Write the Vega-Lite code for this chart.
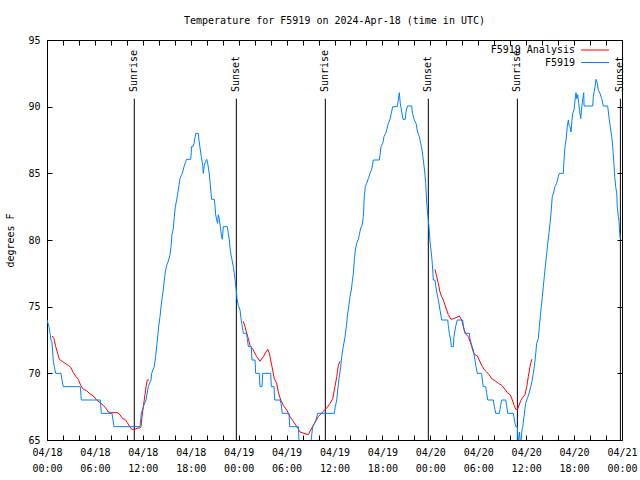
{
  "$schema": "https://vega.github.io/schema/vega-lite/v6.json",
  "width": 575,
  "height": 400,
  "autosize": {"type": "none"},
  "padding": {"left": 47, "top": 40, "right": 18, "bottom": 40},
  "background": "white",
  "config": {
    "font": "DejaVu Sans Mono",
    "view": {"stroke": "black", "strokeWidth": 1},
    "axis": {
      "labelFont": "DejaVu Sans Mono", "labelFontSize": 10, "labelColor": "black",
      "titleFont": "DejaVu Sans Mono", "titleFontSize": 10, "titleFontWeight": "normal", "titleColor": "black",
      "grid": false, "domain": false, "tickColor": "black", "tickSize": -5, "tickWidth": 1,
      "labelFlush": false, "labelOverlap": false
    },
    "legend": {
      "orient": "none", "legendX": 543, "legendY": 5, "title": null, "padding": 0,
      "labelFont": "DejaVu Sans Mono", "labelFontSize": 10, "labelColor": "black",
      "symbolType": "M-5,0H5", "symbolSize": 31.36, "symbolStrokeWidth": 1,
      "labelAlign": "right", "labelOffset": -25, "rowPadding": 2.5
    }
  },
  "title": {
    "text": "Temperature for F5919 on 2024-Apr-18 (time in UTC)",
    "font": "DejaVu Sans Mono", "fontSize": 10, "fontWeight": "normal", "color": "black",
    "anchor": "middle", "frame": "group", "offset": 9
  },
  "datasets": {
    "events": [
      {"event": "Sunrise", "hour": 10.93},
      {"event": "Sunset", "hour": 23.71},
      {"event": "Sunrise", "hour": 34.85},
      {"event": "Sunset", "hour": 47.75},
      {"event": "Sunrise", "hour": 58.90},
      {"event": "Sunset", "hour": 71.80}
    ],
    "temps": [
      {"series": "F5919 Analysis", "run": "a1", "hour": 0.66, "temp": 72.8},
      {"series": "F5919 Analysis", "run": "a1", "hour": 0.88, "temp": 72.6},
      {"series": "F5919 Analysis", "run": "a1", "hour": 1.09, "temp": 72.0},
      {"series": "F5919 Analysis", "run": "a1", "hour": 1.34, "temp": 71.5},
      {"series": "F5919 Analysis", "run": "a1", "hour": 1.54, "temp": 71.05},
      {"series": "F5919 Analysis", "run": "a1", "hour": 1.92, "temp": 70.9},
      {"series": "F5919 Analysis", "run": "a1", "hour": 2.25, "temp": 70.75},
      {"series": "F5919 Analysis", "run": "a1", "hour": 2.67, "temp": 70.6},
      {"series": "F5919 Analysis", "run": "a1", "hour": 2.97, "temp": 70.45},
      {"series": "F5919 Analysis", "run": "a1", "hour": 3.29, "temp": 70.05},
      {"series": "F5919 Analysis", "run": "a1", "hour": 3.63, "temp": 69.75},
      {"series": "F5919 Analysis", "run": "a1", "hour": 3.92, "temp": 69.55},
      {"series": "F5919 Analysis", "run": "a1", "hour": 4.22, "temp": 69.1},
      {"series": "F5919 Analysis", "run": "a1", "hour": 4.55, "temp": 68.8},
      {"series": "F5919 Analysis", "run": "a1", "hour": 4.97, "temp": 68.7},
      {"series": "F5919 Analysis", "run": "a1", "hour": 5.30, "temp": 68.5},
      {"series": "F5919 Analysis", "run": "a1", "hour": 5.80, "temp": 68.3},
      {"series": "F5919 Analysis", "run": "a1", "hour": 6.22, "temp": 68.0},
      {"series": "F5919 Analysis", "run": "a1", "hour": 6.64, "temp": 67.8},
      {"series": "F5919 Analysis", "run": "a1", "hour": 7.05, "temp": 67.6},
      {"series": "F5919 Analysis", "run": "a1", "hour": 7.35, "temp": 67.4},
      {"series": "F5919 Analysis", "run": "a1", "hour": 7.68, "temp": 67.1},
      {"series": "F5919 Analysis", "run": "a1", "hour": 8.10, "temp": 67.05},
      {"series": "F5919 Analysis", "run": "a1", "hour": 8.80, "temp": 67.05},
      {"series": "F5919 Analysis", "run": "a1", "hour": 9.14, "temp": 66.9},
      {"series": "F5919 Analysis", "run": "a1", "hour": 9.48, "temp": 66.6},
      {"series": "F5919 Analysis", "run": "a1", "hour": 9.77, "temp": 66.55},
      {"series": "F5919 Analysis", "run": "a1", "hour": 10.06, "temp": 66.3},
      {"series": "F5919 Analysis", "run": "a1", "hour": 10.31, "temp": 66.05},
      {"series": "F5919 Analysis", "run": "a1", "hour": 10.61, "temp": 65.8},
      {"series": "F5919 Analysis", "run": "a1", "hour": 11.02, "temp": 65.8},
      {"series": "F5919 Analysis", "run": "a1", "hour": 11.31, "temp": 65.9},
      {"series": "F5919 Analysis", "run": "a1", "hour": 11.65, "temp": 65.9},
      {"series": "F5919 Analysis", "run": "a1", "hour": 11.77, "temp": 66.0},
      {"series": "F5919 Analysis", "run": "a1", "hour": 11.90, "temp": 66.75},
      {"series": "F5919 Analysis", "run": "a1", "hour": 12.06, "temp": 67.5},
      {"series": "F5919 Analysis", "run": "a1", "hour": 12.27, "temp": 68.4},
      {"series": "F5919 Analysis", "run": "a1", "hour": 12.40, "temp": 69.0},
      {"series": "F5919 Analysis", "run": "a1", "hour": 12.56, "temp": 69.5},
      {"series": "F5919 Analysis", "run": "a1", "hour": 12.77, "temp": 69.5},
      {"series": "F5919 Analysis", "run": "a2", "hour": 24.58, "temp": 73.9},
      {"series": "F5919 Analysis", "run": "a2", "hour": 24.79, "temp": 73.5},
      {"series": "F5919 Analysis", "run": "a2", "hour": 25.01, "temp": 73.0},
      {"series": "F5919 Analysis", "run": "a2", "hour": 25.21, "temp": 72.6},
      {"series": "F5919 Analysis", "run": "a2", "hour": 25.42, "temp": 72.1},
      {"series": "F5919 Analysis", "run": "a2", "hour": 25.83, "temp": 71.75},
      {"series": "F5919 Analysis", "run": "a2", "hour": 26.26, "temp": 71.25},
      {"series": "F5919 Analysis", "run": "a2", "hour": 26.67, "temp": 70.9},
      {"series": "F5919 Analysis", "run": "a2", "hour": 27.09, "temp": 71.25},
      {"series": "F5919 Analysis", "run": "a2", "hour": 27.42, "temp": 71.6},
      {"series": "F5919 Analysis", "run": "a2", "hour": 27.64, "temp": 71.8},
      {"series": "F5919 Analysis", "run": "a2", "hour": 27.84, "temp": 71.5},
      {"series": "F5919 Analysis", "run": "a2", "hour": 28.14, "temp": 70.6},
      {"series": "F5919 Analysis", "run": "a2", "hour": 28.46, "temp": 69.6},
      {"series": "F5919 Analysis", "run": "a2", "hour": 28.76, "temp": 69.25},
      {"series": "F5919 Analysis", "run": "a2", "hour": 28.96, "temp": 68.6},
      {"series": "F5919 Analysis", "run": "a2", "hour": 29.26, "temp": 68.0},
      {"series": "F5919 Analysis", "run": "a2", "hour": 29.59, "temp": 67.6},
      {"series": "F5919 Analysis", "run": "a2", "hour": 30.02, "temp": 67.25},
      {"series": "F5919 Analysis", "run": "a2", "hour": 30.43, "temp": 66.75},
      {"series": "F5919 Analysis", "run": "a2", "hour": 30.84, "temp": 66.4},
      {"series": "F5919 Analysis", "run": "a2", "hour": 31.27, "temp": 66.0},
      {"series": "F5919 Analysis", "run": "a2", "hour": 31.68, "temp": 65.6},
      {"series": "F5919 Analysis", "run": "a2", "hour": 32.18, "temp": 65.5},
      {"series": "F5919 Analysis", "run": "a2", "hour": 32.72, "temp": 65.4},
      {"series": "F5919 Analysis", "run": "a2", "hour": 33.15, "temp": 65.9},
      {"series": "F5919 Analysis", "run": "a2", "hour": 33.56, "temp": 66.3},
      {"series": "F5919 Analysis", "run": "a2", "hour": 33.97, "temp": 66.75},
      {"series": "F5919 Analysis", "run": "a2", "hour": 34.52, "temp": 67.1},
      {"series": "F5919 Analysis", "run": "a2", "hour": 35.02, "temp": 67.4},
      {"series": "F5919 Analysis", "run": "a2", "hour": 35.44, "temp": 67.75},
      {"series": "F5919 Analysis", "run": "a2", "hour": 35.78, "temp": 68.1},
      {"series": "F5919 Analysis", "run": "a2", "hour": 36.06, "temp": 69.0},
      {"series": "F5919 Analysis", "run": "a2", "hour": 36.28, "temp": 69.75},
      {"series": "F5919 Analysis", "run": "a2", "hour": 36.48, "temp": 70.6},
      {"series": "F5919 Analysis", "run": "a2", "hour": 36.69, "temp": 70.9},
      {"series": "F5919 Analysis", "run": "a3", "hour": 48.58, "temp": 77.8},
      {"series": "F5919 Analysis", "run": "a3", "hour": 48.80, "temp": 77.25},
      {"series": "F5919 Analysis", "run": "a3", "hour": 49.00, "temp": 76.75},
      {"series": "F5919 Analysis", "run": "a3", "hour": 49.21, "temp": 76.1},
      {"series": "F5919 Analysis", "run": "a3", "hour": 49.42, "temp": 75.75},
      {"series": "F5919 Analysis", "run": "a3", "hour": 49.63, "temp": 75.5},
      {"series": "F5919 Analysis", "run": "a3", "hour": 49.84, "temp": 75.1},
      {"series": "F5919 Analysis", "run": "a3", "hour": 50.05, "temp": 74.75},
      {"series": "F5919 Analysis", "run": "a3", "hour": 50.25, "temp": 74.4},
      {"series": "F5919 Analysis", "run": "a3", "hour": 50.59, "temp": 74.05},
      {"series": "F5919 Analysis", "run": "a3", "hour": 50.88, "temp": 74.1},
      {"series": "F5919 Analysis", "run": "a3", "hour": 51.30, "temp": 74.2},
      {"series": "F5919 Analysis", "run": "a3", "hour": 51.63, "temp": 74.3},
      {"series": "F5919 Analysis", "run": "a3", "hour": 51.93, "temp": 74.0},
      {"series": "F5919 Analysis", "run": "a3", "hour": 52.13, "temp": 73.5},
      {"series": "F5919 Analysis", "run": "a3", "hour": 52.34, "temp": 73.0},
      {"series": "F5919 Analysis", "run": "a3", "hour": 52.76, "temp": 72.75},
      {"series": "F5919 Analysis", "run": "a3", "hour": 52.97, "temp": 72.4},
      {"series": "F5919 Analysis", "run": "a3", "hour": 53.18, "temp": 72.0},
      {"series": "F5919 Analysis", "run": "a3", "hour": 53.38, "temp": 71.6},
      {"series": "F5919 Analysis", "run": "a3", "hour": 53.59, "temp": 71.4},
      {"series": "F5919 Analysis", "run": "a3", "hour": 53.88, "temp": 71.3},
      {"series": "F5919 Analysis", "run": "a3", "hour": 54.13, "temp": 71.0},
      {"series": "F5919 Analysis", "run": "a3", "hour": 54.43, "temp": 70.6},
      {"series": "F5919 Analysis", "run": "a3", "hour": 54.72, "temp": 70.3},
      {"series": "F5919 Analysis", "run": "a3", "hour": 55.06, "temp": 70.1},
      {"series": "F5919 Analysis", "run": "a3", "hour": 55.35, "temp": 69.9},
      {"series": "F5919 Analysis", "run": "a3", "hour": 55.69, "temp": 69.6},
      {"series": "F5919 Analysis", "run": "a3", "hour": 56.10, "temp": 69.45},
      {"series": "F5919 Analysis", "run": "a3", "hour": 56.52, "temp": 69.25},
      {"series": "F5919 Analysis", "run": "a3", "hour": 56.94, "temp": 69.1},
      {"series": "F5919 Analysis", "run": "a3", "hour": 57.35, "temp": 68.8},
      {"series": "F5919 Analysis", "run": "a3", "hour": 57.64, "temp": 68.55},
      {"series": "F5919 Analysis", "run": "a3", "hour": 57.98, "temp": 68.4},
      {"series": "F5919 Analysis", "run": "a3", "hour": 58.27, "temp": 68.0},
      {"series": "F5919 Analysis", "run": "a3", "hour": 58.49, "temp": 67.6},
      {"series": "F5919 Analysis", "run": "a3", "hour": 58.70, "temp": 67.3},
      {"series": "F5919 Analysis", "run": "a3", "hour": 58.90, "temp": 67.3},
      {"series": "F5919 Analysis", "run": "a3", "hour": 59.11, "temp": 67.6},
      {"series": "F5919 Analysis", "run": "a3", "hour": 59.32, "temp": 67.95},
      {"series": "F5919 Analysis", "run": "a3", "hour": 59.57, "temp": 68.2},
      {"series": "F5919 Analysis", "run": "a3", "hour": 59.86, "temp": 68.4},
      {"series": "F5919 Analysis", "run": "a3", "hour": 60.07, "temp": 69.0},
      {"series": "F5919 Analysis", "run": "a3", "hour": 60.27, "temp": 69.75},
      {"series": "F5919 Analysis", "run": "a3", "hour": 60.48, "temp": 70.5},
      {"series": "F5919 Analysis", "run": "a3", "hour": 60.70, "temp": 71.05},
      {"series": "F5919", "run": "obs", "hour": 0.0, "temp": 74.0},
      {"series": "F5919", "run": "obs", "hour": 0.25, "temp": 73.5},
      {"series": "F5919", "run": "obs", "hour": 0.38, "temp": 73.0},
      {"series": "F5919", "run": "obs", "hour": 0.50, "temp": 72.5},
      {"series": "F5919", "run": "obs", "hour": 0.63, "temp": 72.3},
      {"series": "F5919", "run": "obs", "hour": 0.71, "temp": 71.6},
      {"series": "F5919", "run": "obs", "hour": 0.79, "temp": 70.9},
      {"series": "F5919", "run": "obs", "hour": 0.91, "temp": 70.5},
      {"series": "F5919", "run": "obs", "hour": 1.09, "temp": 70.0},
      {"series": "F5919", "run": "obs", "hour": 1.75, "temp": 70.0},
      {"series": "F5919", "run": "obs", "hour": 1.88, "temp": 69.5},
      {"series": "F5919", "run": "obs", "hour": 2.04, "temp": 69.0},
      {"series": "F5919", "run": "obs", "hour": 4.17, "temp": 69.0},
      {"series": "F5919", "run": "obs", "hour": 4.30, "temp": 68.0},
      {"series": "F5919", "run": "obs", "hour": 6.67, "temp": 68.0},
      {"series": "F5919", "run": "obs", "hour": 6.80, "temp": 67.0},
      {"series": "F5919", "run": "obs", "hour": 8.14, "temp": 67.0},
      {"series": "F5919", "run": "obs", "hour": 8.39, "temp": 66.0},
      {"series": "F5919", "run": "obs", "hour": 11.65, "temp": 66.0},
      {"series": "F5919", "run": "obs", "hour": 11.81, "temp": 67.0},
      {"series": "F5919", "run": "obs", "hour": 12.06, "temp": 67.5},
      {"series": "F5919", "run": "obs", "hour": 12.40, "temp": 68.0},
      {"series": "F5919", "run": "obs", "hour": 12.68, "temp": 69.0},
      {"series": "F5919", "run": "obs", "hour": 13.02, "temp": 69.5},
      {"series": "F5919", "run": "obs", "hour": 13.11, "temp": 70.0},
      {"series": "F5919", "run": "obs", "hour": 13.43, "temp": 70.5},
      {"series": "F5919", "run": "obs", "hour": 13.60, "temp": 71.25},
      {"series": "F5919", "run": "obs", "hour": 13.77, "temp": 72.2},
      {"series": "F5919", "run": "obs", "hour": 13.98, "temp": 73.5},
      {"series": "F5919", "run": "obs", "hour": 14.15, "temp": 74.25},
      {"series": "F5919", "run": "obs", "hour": 14.28, "temp": 75.0},
      {"series": "F5919", "run": "obs", "hour": 14.40, "temp": 75.6},
      {"series": "F5919", "run": "obs", "hour": 14.56, "temp": 76.25},
      {"series": "F5919", "run": "obs", "hour": 14.69, "temp": 77.0},
      {"series": "F5919", "run": "obs", "hour": 14.81, "temp": 77.6},
      {"series": "F5919", "run": "obs", "hour": 14.99, "temp": 78.1},
      {"series": "F5919", "run": "obs", "hour": 15.24, "temp": 78.5},
      {"series": "F5919", "run": "obs", "hour": 15.40, "temp": 78.9},
      {"series": "F5919", "run": "obs", "hour": 15.53, "temp": 79.5},
      {"series": "F5919", "run": "obs", "hour": 15.65, "temp": 80.4},
      {"series": "F5919", "run": "obs", "hour": 15.82, "temp": 80.9},
      {"series": "F5919", "run": "obs", "hour": 15.94, "temp": 81.75},
      {"series": "F5919", "run": "obs", "hour": 16.07, "temp": 82.5},
      {"series": "F5919", "run": "obs", "hour": 16.24, "temp": 83.0},
      {"series": "F5919", "run": "obs", "hour": 16.37, "temp": 83.5},
      {"series": "F5919", "run": "obs", "hour": 16.53, "temp": 84.1},
      {"series": "F5919", "run": "obs", "hour": 16.65, "temp": 84.6},
      {"series": "F5919", "run": "obs", "hour": 16.87, "temp": 84.9},
      {"series": "F5919", "run": "obs", "hour": 16.99, "temp": 85.1},
      {"series": "F5919", "run": "obs", "hour": 17.16, "temp": 85.5},
      {"series": "F5919", "run": "obs", "hour": 17.37, "temp": 85.9},
      {"series": "F5919", "run": "obs", "hour": 17.49, "temp": 86.05},
      {"series": "F5919", "run": "obs", "hour": 17.99, "temp": 86.05},
      {"series": "F5919", "run": "obs", "hour": 18.07, "temp": 86.6},
      {"series": "F5919", "run": "obs", "hour": 18.09, "temp": 87.0},
      {"series": "F5919", "run": "obs", "hour": 18.28, "temp": 87.0},
      {"series": "F5919", "run": "obs", "hour": 18.41, "temp": 87.25},
      {"series": "F5919", "run": "obs", "hour": 18.62, "temp": 88.0},
      {"series": "F5919", "run": "obs", "hour": 18.95, "temp": 88.0},
      {"series": "F5919", "run": "obs", "hour": 19.03, "temp": 87.5},
      {"series": "F5919", "run": "obs", "hour": 19.20, "temp": 86.75},
      {"series": "F5919", "run": "obs", "hour": 19.32, "temp": 86.25},
      {"series": "F5919", "run": "obs", "hour": 19.50, "temp": 85.6},
      {"series": "F5919", "run": "obs", "hour": 19.57, "temp": 85.0},
      {"series": "F5919", "run": "obs", "hour": 19.70, "temp": 85.6},
      {"series": "F5919", "run": "obs", "hour": 19.87, "temp": 85.9},
      {"series": "F5919", "run": "obs", "hour": 20.00, "temp": 86.05},
      {"series": "F5919", "run": "obs", "hour": 20.12, "temp": 85.75},
      {"series": "F5919", "run": "obs", "hour": 20.29, "temp": 85.1},
      {"series": "F5919", "run": "obs", "hour": 20.41, "temp": 84.4},
      {"series": "F5919", "run": "obs", "hour": 20.54, "temp": 83.5},
      {"series": "F5919", "run": "obs", "hour": 20.62, "temp": 83.05},
      {"series": "F5919", "run": "obs", "hour": 20.95, "temp": 83.05},
      {"series": "F5919", "run": "obs", "hour": 21.04, "temp": 82.55},
      {"series": "F5919", "run": "obs", "hour": 21.12, "temp": 81.9},
      {"series": "F5919", "run": "obs", "hour": 21.25, "temp": 81.5},
      {"series": "F5919", "run": "obs", "hour": 21.37, "temp": 81.25},
      {"series": "F5919", "run": "obs", "hour": 21.45, "temp": 81.9},
      {"series": "F5919", "run": "obs", "hour": 21.58, "temp": 81.6},
      {"series": "F5919", "run": "obs", "hour": 21.70, "temp": 81.0},
      {"series": "F5919", "run": "obs", "hour": 21.83, "temp": 80.4},
      {"series": "F5919", "run": "obs", "hour": 21.95, "temp": 80.05},
      {"series": "F5919", "run": "obs", "hour": 22.08, "temp": 81.0},
      {"series": "F5919", "run": "obs", "hour": 22.58, "temp": 81.0},
      {"series": "F5919", "run": "obs", "hour": 22.70, "temp": 80.5},
      {"series": "F5919", "run": "obs", "hour": 22.83, "temp": 80.0},
      {"series": "F5919", "run": "obs", "hour": 22.92, "temp": 79.4},
      {"series": "F5919", "run": "obs", "hour": 23.04, "temp": 78.9},
      {"series": "F5919", "run": "obs", "hour": 23.17, "temp": 78.5},
      {"series": "F5919", "run": "obs", "hour": 23.33, "temp": 78.0},
      {"series": "F5919", "run": "obs", "hour": 23.45, "temp": 77.5},
      {"series": "F5919", "run": "obs", "hour": 23.58, "temp": 76.9},
      {"series": "F5919", "run": "obs", "hour": 23.70, "temp": 76.25},
      {"series": "F5919", "run": "obs", "hour": 23.79, "temp": 75.6},
      {"series": "F5919", "run": "obs", "hour": 23.95, "temp": 75.1},
      {"series": "F5919", "run": "obs", "hour": 24.17, "temp": 74.75},
      {"series": "F5919", "run": "obs", "hour": 24.29, "temp": 74.1},
      {"series": "F5919", "run": "obs", "hour": 24.46, "temp": 73.5},
      {"series": "F5919", "run": "obs", "hour": 24.58, "temp": 73.0},
      {"series": "F5919", "run": "obs", "hour": 25.01, "temp": 73.0},
      {"series": "F5919", "run": "obs", "hour": 25.08, "temp": 72.6},
      {"series": "F5919", "run": "obs", "hour": 25.21, "temp": 72.0},
      {"series": "F5919", "run": "obs", "hour": 25.58, "temp": 72.0},
      {"series": "F5919", "run": "obs", "hour": 25.67, "temp": 71.0},
      {"series": "F5919", "run": "obs", "hour": 26.05, "temp": 71.0},
      {"series": "F5919", "run": "obs", "hour": 26.13, "temp": 70.0},
      {"series": "F5919", "run": "obs", "hour": 26.58, "temp": 70.0},
      {"series": "F5919", "run": "obs", "hour": 26.67, "temp": 69.0},
      {"series": "F5919", "run": "obs", "hour": 26.92, "temp": 69.0},
      {"series": "F5919", "run": "obs", "hour": 27.01, "temp": 70.0},
      {"series": "F5919", "run": "obs", "hour": 28.01, "temp": 70.0},
      {"series": "F5919", "run": "obs", "hour": 28.09, "temp": 69.0},
      {"series": "F5919", "run": "obs", "hour": 28.43, "temp": 69.0},
      {"series": "F5919", "run": "obs", "hour": 28.51, "temp": 68.0},
      {"series": "F5919", "run": "obs", "hour": 29.18, "temp": 68.0},
      {"series": "F5919", "run": "obs", "hour": 29.30, "temp": 67.75},
      {"series": "F5919", "run": "obs", "hour": 29.46, "temp": 67.0},
      {"series": "F5919", "run": "obs", "hour": 30.30, "temp": 67.0},
      {"series": "F5919", "run": "obs", "hour": 30.39, "temp": 66.0},
      {"series": "F5919", "run": "obs", "hour": 31.47, "temp": 66.0},
      {"series": "F5919", "run": "obs", "hour": 31.59, "temp": 64.5},
      {"series": "F5919", "run": "obs", "hour": 33.00, "temp": 64.5},
      {"series": "F5919", "run": "obs", "hour": 33.15, "temp": 65.4},
      {"series": "F5919", "run": "obs", "hour": 33.27, "temp": 66.0},
      {"series": "F5919", "run": "obs", "hour": 33.68, "temp": 66.5},
      {"series": "F5919", "run": "obs", "hour": 33.90, "temp": 67.0},
      {"series": "F5919", "run": "obs", "hour": 35.98, "temp": 67.0},
      {"series": "F5919", "run": "obs", "hour": 36.10, "temp": 67.5},
      {"series": "F5919", "run": "obs", "hour": 36.28, "temp": 68.0},
      {"series": "F5919", "run": "obs", "hour": 36.40, "temp": 68.75},
      {"series": "F5919", "run": "obs", "hour": 36.56, "temp": 69.6},
      {"series": "F5919", "run": "obs", "hour": 36.78, "temp": 70.5},
      {"series": "F5919", "run": "obs", "hour": 36.90, "temp": 71.25},
      {"series": "F5919", "run": "obs", "hour": 37.10, "temp": 72.0},
      {"series": "F5919", "run": "obs", "hour": 37.32, "temp": 72.75},
      {"series": "F5919", "run": "obs", "hour": 37.53, "temp": 73.75},
      {"series": "F5919", "run": "obs", "hour": 37.60, "temp": 74.25},
      {"series": "F5919", "run": "obs", "hour": 37.78, "temp": 75.0},
      {"series": "F5919", "run": "obs", "hour": 37.94, "temp": 75.75},
      {"series": "F5919", "run": "obs", "hour": 38.11, "temp": 76.25},
      {"series": "F5919", "run": "obs", "hour": 38.23, "temp": 76.9},
      {"series": "F5919", "run": "obs", "hour": 38.36, "temp": 77.5},
      {"series": "F5919", "run": "obs", "hour": 38.48, "temp": 78.5},
      {"series": "F5919", "run": "obs", "hour": 38.61, "temp": 79.25},
      {"series": "F5919", "run": "obs", "hour": 38.78, "temp": 79.75},
      {"series": "F5919", "run": "obs", "hour": 38.98, "temp": 80.05},
      {"series": "F5919", "run": "obs", "hour": 39.11, "temp": 80.4},
      {"series": "F5919", "run": "obs", "hour": 39.28, "temp": 80.9},
      {"series": "F5919", "run": "obs", "hour": 39.44, "temp": 81.05},
      {"series": "F5919", "run": "obs", "hour": 39.61, "temp": 81.75},
      {"series": "F5919", "run": "obs", "hour": 39.73, "temp": 83.25},
      {"series": "F5919", "run": "obs", "hour": 39.86, "temp": 84.0},
      {"series": "F5919", "run": "obs", "hour": 40.03, "temp": 84.25},
      {"series": "F5919", "run": "obs", "hour": 40.23, "temp": 84.6},
      {"series": "F5919", "run": "obs", "hour": 40.45, "temp": 85.0},
      {"series": "F5919", "run": "obs", "hour": 40.66, "temp": 85.3},
      {"series": "F5919", "run": "obs", "hour": 40.86, "temp": 86.0},
      {"series": "F5919", "run": "obs", "hour": 41.61, "temp": 86.0},
      {"series": "F5919", "run": "obs", "hour": 41.70, "temp": 86.4},
      {"series": "F5919", "run": "obs", "hour": 41.82, "temp": 87.0},
      {"series": "F5919", "run": "obs", "hour": 42.04, "temp": 87.25},
      {"series": "F5919", "run": "obs", "hour": 42.20, "temp": 87.75},
      {"series": "F5919", "run": "obs", "hour": 42.41, "temp": 88.0},
      {"series": "F5919", "run": "obs", "hour": 42.54, "temp": 88.25},
      {"series": "F5919", "run": "obs", "hour": 42.74, "temp": 88.75},
      {"series": "F5919", "run": "obs", "hour": 42.95, "temp": 89.05},
      {"series": "F5919", "run": "obs", "hour": 43.11, "temp": 89.5},
      {"series": "F5919", "run": "obs", "hour": 43.29, "temp": 90.0},
      {"series": "F5919", "run": "obs", "hour": 43.86, "temp": 90.0},
      {"series": "F5919", "run": "obs", "hour": 43.99, "temp": 90.5},
      {"series": "F5919", "run": "obs", "hour": 44.11, "temp": 91.05},
      {"series": "F5919", "run": "obs", "hour": 44.24, "temp": 90.25},
      {"series": "F5919", "run": "obs", "hour": 44.42, "temp": 89.6},
      {"series": "F5919", "run": "obs", "hour": 44.58, "temp": 89.05},
      {"series": "F5919", "run": "obs", "hour": 44.87, "temp": 89.05},
      {"series": "F5919", "run": "obs", "hour": 44.95, "temp": 89.6},
      {"series": "F5919", "run": "obs", "hour": 45.12, "temp": 90.05},
      {"series": "F5919", "run": "obs", "hour": 45.67, "temp": 90.05},
      {"series": "F5919", "run": "obs", "hour": 45.74, "temp": 89.6},
      {"series": "F5919", "run": "obs", "hour": 45.96, "temp": 89.05},
      {"series": "F5919", "run": "obs", "hour": 46.21, "temp": 88.75},
      {"series": "F5919", "run": "obs", "hour": 46.42, "temp": 88.05},
      {"series": "F5919", "run": "obs", "hour": 46.62, "temp": 87.75},
      {"series": "F5919", "run": "obs", "hour": 46.80, "temp": 87.25},
      {"series": "F5919", "run": "obs", "hour": 46.96, "temp": 86.75},
      {"series": "F5919", "run": "obs", "hour": 47.12, "temp": 86.0},
      {"series": "F5919", "run": "obs", "hour": 47.30, "temp": 85.1},
      {"series": "F5919", "run": "obs", "hour": 47.42, "temp": 84.25},
      {"series": "F5919", "run": "obs", "hour": 47.55, "temp": 82.75},
      {"series": "F5919", "run": "obs", "hour": 47.62, "temp": 82.25},
      {"series": "F5919", "run": "obs", "hour": 47.75, "temp": 81.5},
      {"series": "F5919", "run": "obs", "hour": 47.83, "temp": 81.0},
      {"series": "F5919", "run": "obs", "hour": 47.96, "temp": 79.9},
      {"series": "F5919", "run": "obs", "hour": 48.08, "temp": 79.25},
      {"series": "F5919", "run": "obs", "hour": 48.21, "temp": 78.5},
      {"series": "F5919", "run": "obs", "hour": 48.30, "temp": 77.75},
      {"series": "F5919", "run": "obs", "hour": 48.37, "temp": 77.0},
      {"series": "F5919", "run": "obs", "hour": 48.58, "temp": 77.0},
      {"series": "F5919", "run": "obs", "hour": 48.67, "temp": 76.6},
      {"series": "F5919", "run": "obs", "hour": 48.80, "temp": 76.1},
      {"series": "F5919", "run": "obs", "hour": 49.00, "temp": 75.5},
      {"series": "F5919", "run": "obs", "hour": 49.21, "temp": 74.75},
      {"series": "F5919", "run": "obs", "hour": 49.42, "temp": 74.0},
      {"series": "F5919", "run": "obs", "hour": 50.18, "temp": 74.0},
      {"series": "F5919", "run": "obs", "hour": 50.25, "temp": 73.6},
      {"series": "F5919", "run": "obs", "hour": 50.38, "temp": 73.0},
      {"series": "F5919", "run": "obs", "hour": 50.55, "temp": 72.5},
      {"series": "F5919", "run": "obs", "hour": 50.63, "temp": 72.0},
      {"series": "F5919", "run": "obs", "hour": 50.88, "temp": 72.0},
      {"series": "F5919", "run": "obs", "hour": 50.96, "temp": 72.75},
      {"series": "F5919", "run": "obs", "hour": 51.09, "temp": 73.25},
      {"series": "F5919", "run": "obs", "hour": 51.21, "temp": 73.6},
      {"series": "F5919", "run": "obs", "hour": 51.38, "temp": 74.0},
      {"series": "F5919", "run": "obs", "hour": 52.05, "temp": 74.0},
      {"series": "F5919", "run": "obs", "hour": 52.12, "temp": 73.6},
      {"series": "F5919", "run": "obs", "hour": 52.25, "temp": 73.25},
      {"series": "F5919", "run": "obs", "hour": 52.43, "temp": 73.0},
      {"series": "F5919", "run": "obs", "hour": 52.88, "temp": 73.0},
      {"series": "F5919", "run": "obs", "hour": 52.97, "temp": 72.6},
      {"series": "F5919", "run": "obs", "hour": 53.18, "temp": 72.1},
      {"series": "F5919", "run": "obs", "hour": 53.38, "temp": 71.75},
      {"series": "F5919", "run": "obs", "hour": 53.59, "temp": 71.0},
      {"series": "F5919", "run": "obs", "hour": 53.72, "temp": 70.5},
      {"series": "F5919", "run": "obs", "hour": 53.88, "temp": 70.0},
      {"series": "F5919", "run": "obs", "hour": 54.43, "temp": 70.0},
      {"series": "F5919", "run": "obs", "hour": 54.51, "temp": 69.5},
      {"series": "F5919", "run": "obs", "hour": 54.63, "temp": 69.0},
      {"series": "F5919", "run": "obs", "hour": 54.93, "temp": 69.0},
      {"series": "F5919", "run": "obs", "hour": 55.06, "temp": 68.5},
      {"series": "F5919", "run": "obs", "hour": 55.19, "temp": 68.0},
      {"series": "F5919", "run": "obs", "hour": 55.89, "temp": 68.0},
      {"series": "F5919", "run": "obs", "hour": 56.01, "temp": 67.5},
      {"series": "F5919", "run": "obs", "hour": 56.19, "temp": 67.0},
      {"series": "F5919", "run": "obs", "hour": 56.64, "temp": 67.0},
      {"series": "F5919", "run": "obs", "hour": 56.81, "temp": 67.6},
      {"series": "F5919", "run": "obs", "hour": 56.94, "temp": 68.0},
      {"series": "F5919", "run": "obs", "hour": 57.44, "temp": 68.0},
      {"series": "F5919", "run": "obs", "hour": 57.57, "temp": 67.5},
      {"series": "F5919", "run": "obs", "hour": 57.69, "temp": 67.0},
      {"series": "F5919", "run": "obs", "hour": 58.39, "temp": 67.0},
      {"series": "F5919", "run": "obs", "hour": 58.52, "temp": 66.5},
      {"series": "F5919", "run": "obs", "hour": 58.70, "temp": 66.0},
      {"series": "F5919", "run": "obs", "hour": 58.90, "temp": 66.0},
      {"series": "F5919", "run": "obs", "hour": 58.99, "temp": 64.6},
      {"series": "F5919", "run": "obs", "hour": 59.15, "temp": 65.6},
      {"series": "F5919", "run": "obs", "hour": 59.31, "temp": 64.6},
      {"series": "F5919", "run": "obs", "hour": 59.48, "temp": 65.75},
      {"series": "F5919", "run": "obs", "hour": 59.57, "temp": 66.0},
      {"series": "F5919", "run": "obs", "hour": 59.73, "temp": 66.75},
      {"series": "F5919", "run": "obs", "hour": 59.94, "temp": 67.75},
      {"series": "F5919", "run": "obs", "hour": 60.14, "temp": 68.1},
      {"series": "F5919", "run": "obs", "hour": 60.36, "temp": 68.5},
      {"series": "F5919", "run": "obs", "hour": 60.57, "temp": 69.0},
      {"series": "F5919", "run": "obs", "hour": 60.73, "temp": 69.4},
      {"series": "F5919", "run": "obs", "hour": 60.90, "temp": 70.0},
      {"series": "F5919", "run": "obs", "hour": 61.02, "temp": 70.5},
      {"series": "F5919", "run": "obs", "hour": 61.20, "temp": 71.5},
      {"series": "F5919", "run": "obs", "hour": 61.32, "temp": 72.25},
      {"series": "F5919", "run": "obs", "hour": 61.52, "temp": 72.6},
      {"series": "F5919", "run": "obs", "hour": 61.65, "temp": 73.5},
      {"series": "F5919", "run": "obs", "hour": 61.77, "temp": 74.25},
      {"series": "F5919", "run": "obs", "hour": 61.90, "temp": 75.0},
      {"series": "F5919", "run": "obs", "hour": 62.02, "temp": 75.75},
      {"series": "F5919", "run": "obs", "hour": 62.15, "temp": 76.5},
      {"series": "F5919", "run": "obs", "hour": 62.27, "temp": 77.25},
      {"series": "F5919", "run": "obs", "hour": 62.40, "temp": 78.0},
      {"series": "F5919", "run": "obs", "hour": 62.57, "temp": 79.0},
      {"series": "F5919", "run": "obs", "hour": 62.70, "temp": 79.75},
      {"series": "F5919", "run": "obs", "hour": 62.86, "temp": 80.5},
      {"series": "F5919", "run": "obs", "hour": 62.99, "temp": 81.25},
      {"series": "F5919", "run": "obs", "hour": 63.11, "temp": 82.0},
      {"series": "F5919", "run": "obs", "hour": 63.27, "temp": 83.25},
      {"series": "F5919", "run": "obs", "hour": 63.45, "temp": 83.6},
      {"series": "F5919", "run": "obs", "hour": 63.61, "temp": 84.0},
      {"series": "F5919", "run": "obs", "hour": 63.82, "temp": 84.25},
      {"series": "F5919", "run": "obs", "hour": 64.02, "temp": 84.75},
      {"series": "F5919", "run": "obs", "hour": 64.15, "temp": 85.0},
      {"series": "F5919", "run": "obs", "hour": 64.65, "temp": 85.0},
      {"series": "F5919", "run": "obs", "hour": 64.74, "temp": 86.0},
      {"series": "F5919", "run": "obs", "hour": 64.86, "temp": 87.0},
      {"series": "F5919", "run": "obs", "hour": 64.99, "temp": 87.5},
      {"series": "F5919", "run": "obs", "hour": 65.15, "temp": 88.5},
      {"series": "F5919", "run": "obs", "hour": 65.28, "temp": 89.0},
      {"series": "F5919", "run": "obs", "hour": 65.37, "temp": 88.6},
      {"series": "F5919", "run": "obs", "hour": 65.49, "temp": 88.5},
      {"series": "F5919", "run": "obs", "hour": 65.62, "temp": 88.1},
      {"series": "F5919", "run": "obs", "hour": 65.74, "temp": 89.0},
      {"series": "F5919", "run": "obs", "hour": 65.83, "temp": 89.5},
      {"series": "F5919", "run": "obs", "hour": 65.99, "temp": 89.75},
      {"series": "F5919", "run": "obs", "hour": 66.12, "temp": 90.5},
      {"series": "F5919", "run": "obs", "hour": 66.24, "temp": 91.05},
      {"series": "F5919", "run": "obs", "hour": 66.33, "temp": 90.6},
      {"series": "F5919", "run": "obs", "hour": 66.46, "temp": 90.9},
      {"series": "F5919", "run": "obs", "hour": 66.58, "temp": 90.25},
      {"series": "F5919", "run": "obs", "hour": 66.71, "temp": 89.6},
      {"series": "F5919", "run": "obs", "hour": 66.83, "temp": 89.1},
      {"series": "F5919", "run": "obs", "hour": 66.96, "temp": 90.0},
      {"series": "F5919", "run": "obs", "hour": 67.08, "temp": 90.5},
      {"series": "F5919", "run": "obs", "hour": 67.21, "temp": 91.05},
      {"series": "F5919", "run": "obs", "hour": 67.25, "temp": 90.05},
      {"series": "F5919", "run": "obs", "hour": 68.33, "temp": 90.05},
      {"series": "F5919", "run": "obs", "hour": 68.41, "temp": 90.75},
      {"series": "F5919", "run": "obs", "hour": 68.62, "temp": 91.5},
      {"series": "F5919", "run": "obs", "hour": 68.75, "temp": 92.05},
      {"series": "F5919", "run": "obs", "hour": 68.91, "temp": 91.75},
      {"series": "F5919", "run": "obs", "hour": 69.03, "temp": 91.25},
      {"series": "F5919", "run": "obs", "hour": 69.24, "temp": 91.0},
      {"series": "F5919", "run": "obs", "hour": 69.46, "temp": 90.6},
      {"series": "F5919", "run": "obs", "hour": 69.66, "temp": 90.05},
      {"series": "F5919", "run": "obs", "hour": 70.21, "temp": 90.05},
      {"series": "F5919", "run": "obs", "hour": 70.29, "temp": 89.6},
      {"series": "F5919", "run": "obs", "hour": 70.41, "temp": 89.0},
      {"series": "F5919", "run": "obs", "hour": 70.59, "temp": 88.25},
      {"series": "F5919", "run": "obs", "hour": 70.71, "temp": 87.75},
      {"series": "F5919", "run": "obs", "hour": 70.84, "temp": 87.0},
      {"series": "F5919", "run": "obs", "hour": 70.96, "temp": 86.0},
      {"series": "F5919", "run": "obs", "hour": 71.09, "temp": 84.75},
      {"series": "F5919", "run": "obs", "hour": 71.21, "temp": 84.0},
      {"series": "F5919", "run": "obs", "hour": 71.34, "temp": 83.5},
      {"series": "F5919", "run": "obs", "hour": 71.41, "temp": 82.5},
      {"series": "F5919", "run": "obs", "hour": 71.54, "temp": 81.75},
      {"series": "F5919", "run": "obs", "hour": 71.63, "temp": 81.4},
      {"series": "F5919", "run": "obs", "hour": 71.71, "temp": 80.5},
      {"series": "F5919", "run": "obs", "hour": 71.79, "temp": 80.1}
    ]
  },
  "layer": [
    {
      "data": {"name": "events"},
      "mark": {"type": "rule", "color": "black", "strokeWidth": 1},
      "encoding": {
        "x": {
          "field": "hour", "type": "quantitative",
          "scale": {"domain": [0, 72], "nice": false, "zero": false},
          "axis": {
            "orient": "top", "title": null, "labels": false, "tickSize": -5,
            "values": [0,2,4,6,8,10,12,14,16,18,20,22,24,26,28,30,32,34,36,38,40,42,44,46,48,50,52,54,56,58,60,62,64,66,68,70,72],
            "encode": {"ticks": {"update": {"y2": {"signal": "datum.value % 6 === 0 ? 5 : 2.5"}}}}
          }
        },
        "y": {
          "datum": 65, "type": "quantitative",
          "scale": {"domain": [65, 95], "nice": false, "zero": false},
          "axis": {"orient": "right", "title": null, "labels": false, "tickSize": -5, "values": [65,70,75,80,85,90,95]}
        },
        "y2": {"datum": 90.6}
      }
    },
    {
      "data": {"name": "events"},
      "mark": {"type": "text", "angle": 270, "align": "left", "baseline": "middle", "font": "DejaVu Sans Mono", "fontSize": 10, "color": "black"},
      "encoding": {
        "x": {"field": "hour", "type": "quantitative", "axis": null},
        "y": {"datum": 91.1, "type": "quantitative", "axis": null},
        "text": {"field": "event"}
      }
    },
    {
      "data": {"name": "temps"},
      "mark": {"type": "line", "strokeWidth": 1, "clip": true},
      "encoding": {
        "x": {
          "field": "hour", "type": "quantitative",
          "axis": {
            "orient": "bottom", "title": null, "tickSize": -5, "labelPadding": 12,
            "labelBaseline": "top", "labelLineHeight": 16,
            "values": [0,2,4,6,8,10,12,14,16,18,20,22,24,26,28,30,32,34,36,38,40,42,44,46,48,50,52,54,56,58,60,62,64,66,68,70,72],
            "labelExpr": "datum.value % 6 === 0 ? ['04/' + (18 + floor(datum.value / 24)), (datum.value % 24 < 10 ? '0' : '') + (datum.value % 24) + ':00'] : ''",
            "encode": {"ticks": {"update": {"y2": {"signal": "datum.value % 6 === 0 ? -5 : -2.5"}}}}
          }
        },
        "y": {
          "field": "temp", "type": "quantitative",
          "axis": {
            "orient": "left", "title": "degrees F", "tickSize": -5, "labelPadding": 12,
            "values": [65,70,75,80,85,90,95],
            "titleX": -37, "titleY": 200, "titleAngle": 270, "titleAlign": "center", "titleBaseline": "middle"
          }
        },
        "color": {
          "field": "series", "type": "nominal",
          "scale": {"domain": ["F5919 Analysis", "F5919"], "range": ["#ff0000", "#0080ff"]},
          "legend": {"title": null}
        },
        "detail": {"field": "run"}
      }
    }
  ],
  "resolve": {"axis": {"x": "independent", "y": "independent"}}
}
